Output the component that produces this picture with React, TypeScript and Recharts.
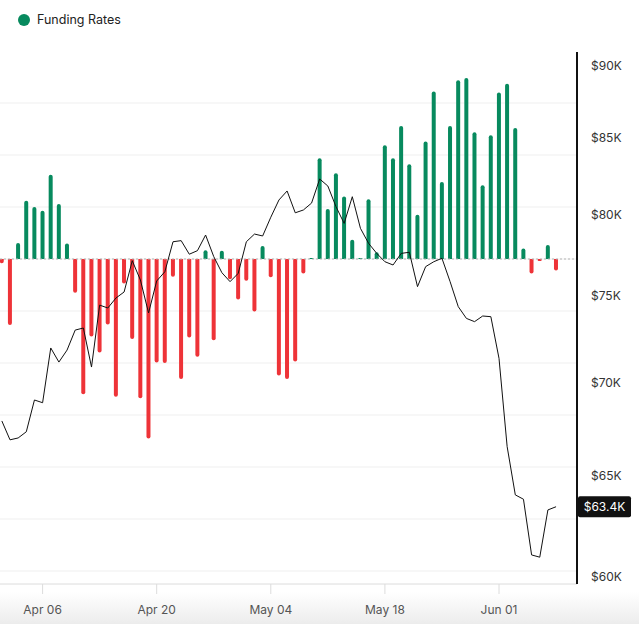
import {
  Bar,
  CartesianGrid,
  Cell,
  ComposedChart,
  Line,
  ReferenceLine,
  XAxis,
  YAxis,
} from "recharts";

// daily funding rates (relative units, 1 = one gridline step), Apr 01 .. Jun 08
const fundingRates = [
  -0.08, -1.27, 0.31, 1.12, 1.0, 0.93, 1.62, 1.06, 0.3, -0.65,
  -2.6, -1.49, -1.8, -1.26, -2.65, -0.47, -1.54, -2.68, -3.45, -1.99,
  -2.0, -0.34, -2.31, -1.51, -1.88, 0.17, -1.56, 0.16, -0.39, -0.78,
  -0.42, -1.01, 0.25, -0.35, -2.24, -2.31, -1.97, -0.28, 0.02, 1.94,
  0.96, 1.65, 1.2, 0.37, 0.02, 1.15, 0.13, 2.19, 1.94, 2.56,
  1.82, 0.85, 2.26, 3.22, 1.48, 2.56, 3.44, 3.48, 2.44, 1.42,
  2.38, 3.2, 3.37, 2.52, 0.2, -0.28, -0.04, 0.27, -0.22,
];

// BTC price in USD
const prices = [
  67910, 66900, 67000, 67330, 69050, 68900, 71960, 71160, 71840, 72990,
  73110, 70880, 74450, 74280, 74870, 75230, 77120, 75950, 73990, 75890,
  76450, 78290, 78360, 77520, 77740, 78710, 77370, 76390, 75850, 76350,
  78290, 78770, 78650, 79830, 80930, 81510, 80110, 80290, 80730, 82290,
  81830, 80500, 79440, 81140, 79130, 78190, 77570, 77060, 76860, 77570,
  77640, 75550, 76760, 77060, 77270, 75850, 74360, 73670, 73480, 73810,
  73770, 71370, 66540, 64040, 63820, 61060, 60950, 63280, 63440,
];

const monthNames = ["Apr", "May", "Jun"];
const monthDays = [30, 31, 30];
const dates: string[] = [];
monthNames.forEach((m, mi) => {
  for (let d = 1; d <= monthDays[mi]; d++) {
    if (dates.length < prices.length) dates.push(`${m} ${String(d).padStart(2, "0")}`);
  }
});

const xTickIdx = [5, 19, 33, 47, 61]; // Apr 06, Apr 20, May 04, May 18, Jun 01
const priceTicks = [60000, 65000, 70000, 75000, 80000, 85000, 90000];
const rateTicks = [-6, -5, -4, -3, -2, -1, 0, 1, 2, 3];

const GREEN = "#078a5e";
const RED = "#ee3338";
const FONT = "Inter, 'Liberation Sans', sans-serif";

const data = prices.map((p, i) => ({
  idx: i,
  date: dates[i],
  price: p,
  rate: fundingRates[i],
}));

const lastPrice = prices[prices.length - 1];

const PriceTag = (props: any) => {
  const vb = props.viewBox || {};
  const x = vb.x + vb.width + 1;
  const y = vb.y;
  return (
    <g>
      <rect x={x} y={y - 10.5} width={53} height={21} rx={2} fill="#111" />
      <text
        x={x + 26.5}
        y={y}
        dy="0.36em"
        textAnchor="middle"
        fill="#fff"
        fontSize={12}
        fontFamily={FONT}
      >
        ${(lastPrice / 1000).toFixed(1)}K
      </text>
    </g>
  );
};

export default function App() {
  return (
    <div
      style={{
        position: "absolute",
        left: 0,
        top: 0,
        width: 639,
        height: 624,
        overflow: "hidden",
        background: "linear-gradient(to bottom, #fff 0px, #fff 592px, #ececec 624px)",
        fontFamily: FONT,
      }}
    >
      <div
        style={{
          position: "absolute",
          left: 18,
          top: 12,
          display: "flex",
          alignItems: "center",
          fontSize: 12.5,
          color: "#222",
        }}
      >
        <span
          style={{
            width: 12,
            height: 12,
            borderRadius: 6,
            background: GREEN,
            display: "inline-block",
            marginRight: 7,
          }}
        />
        Funding Rates
      </div>
      <div style={{ position: "absolute", left: 0, top: 0 }}>
        <ComposedChart
          width={639}
          height={624}
          data={data}
          margin={{ top: 52, right: 0, bottom: 0, left: 0 }}
        >
          <CartesianGrid
            yAxisId="rate"
            vertical={false}
            stroke="#efefef"
            horizontalValues={rateTicks}
          />
          <XAxis
            dataKey="idx"
            type="number"
            domain={[-0.227, 70.57]}
            ticks={xTickIdx}
            tickFormatter={(v: number) => dates[v]}
            height={40}
            axisLine={{ stroke: "#dcdcdc" }}
            tickLine={{ stroke: "#dcdcdc" }}
            tickSize={10}
            tickMargin={11}
            tick={{ fill: "#555", fontSize: 12, fontFamily: FONT }}
          />
          <YAxis
            yAxisId="rate"
            hide
            domain={[-6.25, 3.981]}
            ticks={rateTicks}
            allowDataOverflow
          />
          <YAxis
            yAxisId="price"
            orientation="right"
            scale="log"
            domain={[59667, 91016]}
            allowDataOverflow
            ticks={priceTicks}
            width={62}
            axisLine={{ stroke: "#111", strokeWidth: 2 }}
            tickLine={false}
            tickSize={6}
            tickMargin={8}
            tickFormatter={(v: number) => `$${v / 1000}K`}
            tick={{ fill: "#333", fontSize: 12, fontFamily: FONT, textAnchor: "start" }}
          />
          <ReferenceLine
            yAxisId="rate"
            y={0}
            stroke="#b5b5b5"
            strokeDasharray="2 2"
          />
          <Bar
            yAxisId="rate"
            dataKey="rate"
            barSize={4}
            radius={[2, 2, 0, 0]}
            isAnimationActive={false}
          >
            {data.map((d, i) => (
              <Cell key={i} fill={d.rate >= 0 ? GREEN : RED} />
            ))}
          </Bar>
          <Line
            yAxisId="price"
            dataKey="price"
            type="linear"
            stroke="#111"
            strokeWidth={1}
            dot={false}
            isAnimationActive={false}
          />
          <ReferenceLine
            yAxisId="price"
            y={lastPrice}
            stroke="none"
            label={(p: any) => <PriceTag {...p} />}
          />
        </ComposedChart>
      </div>
    </div>
  );
}
